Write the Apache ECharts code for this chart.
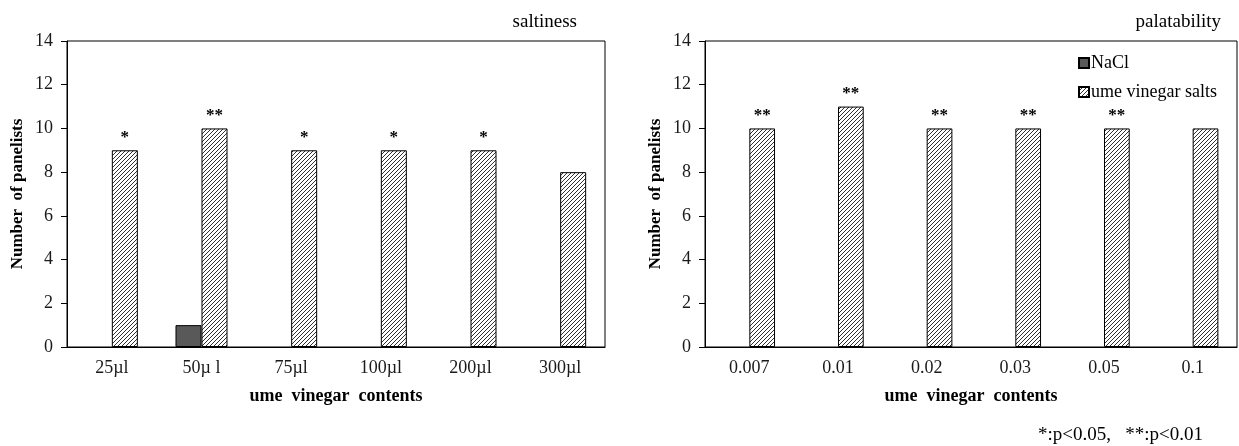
<!DOCTYPE html>
<html>
<head>
<meta charset="utf-8">
<script src="https://cdn.jsdelivr.net/npm/echarts@6/dist/echarts.min.js"></script>
<style>
    html,body{margin:0;padding:0;background:#fff;}
    #chart{width:1239px;height:446px;}
</style>
</head>
<body>
<div id="chart"></div>
<script>
    // data
    var saltCats = ['25µl', '50µ l', '75µl', '100µl', '200µl', '300µl'];
    var saltNaCl = [null, 1, null, null, null, null];
    var saltUme = [9, 10, 9, 9, 9, 8];
    var saltSig = ['*', '**', '*', '*', '*', ''];

    var palCats = ['0.007', '0.01', '0.02', '0.03', '0.05', '0.1'];
    var palNaCl = [null, null, null, null, null, null];
    var palUme = [10, 11, 10, 10, 10, 10];
    var palSig = ['**', '**', '**', '**', '**', ''];

    var yTicks = [0, 2, 4, 6, 8, 10, 12, 14];

    var font = '"Liberation Serif", "DejaVu Serif", serif';

    // hatch pattern ////
    function hatch() {
        var c = document.createElement('canvas');
        c.width = 4; c.height = 4;
        var ctx = c.getContext('2d');
        ctx.fillStyle = '#fff';
        ctx.fillRect(0, 0, 4, 4);
        ctx.strokeStyle = '#333';
        ctx.lineWidth = 1;
        ctx.beginPath();
        ctx.moveTo(0, 4); ctx.lineTo(4, 0);
        ctx.moveTo(-1, 1); ctx.lineTo(1, -1);
        ctx.moveTo(3, 5); ctx.lineTo(5, 3);
        ctx.stroke();
        return c;
    }
    var hatchFill = {image: hatch(), repeat: 'repeat'};

    var dom = document.getElementById('chart');
    var myChart = echarts.init(dom);

    function xAxisOf(idx, cats) {
        return {
            type: 'category',
            gridIndex: idx,
            data: cats,
            name: 'ume  vinegar  contents',
            nameLocation: 'middle',
            nameGap: 40,
            nameTextStyle: {fontFamily: font, fontWeight: 'bold', fontSize: 18, color: '#000'},
            axisLine: {lineStyle: {color: '#000', width: 1}},
            axisTick: {length: 6, lineStyle: {color: '#000'}},
            axisLabel: {fontFamily: font, fontSize: 18, color: '#1a1a1a', margin: 12}
        };
    }
    function yAxisOf(idx) {
        return {
            type: 'value',
            gridIndex: idx,
            min: 0,
            max: yTicks[yTicks.length - 1],
            interval: 2,
            name: 'Number  of panelists',
            nameLocation: 'middle',
            nameGap: 41,
            nameTextStyle: {fontFamily: font, fontWeight: 'bold', fontSize: 17, color: '#000'},
            axisLine: {show: true, lineStyle: {color: '#000', width: 1}},
            axisTick: {show: true, length: 6, lineStyle: {color: '#000'}},
            axisLabel: {fontFamily: font, fontSize: 18, color: '#1a1a1a', margin: 14},
            splitLine: {show: false}
        };
    }
    function sigLabel(sig) {
        return {
            show: true,
            position: 'top',
            distance: 4,
            fontFamily: font,
            fontWeight: 'bold',
            fontSize: 17,
            color: '#000',
            formatter: function (p) { return sig[p.dataIndex]; }
        };
    }

    var option = {
        animation: false,
        title: [
            {text: 'saltiness', right: 657, top: 8, textStyle: {fontFamily: font, fontWeight: 'normal', fontSize: 19, color: '#000'}},
            {text: 'palatability', right: 13, top: 8, textStyle: {fontFamily: font, fontWeight: 'normal', fontSize: 19, color: '#000'}},
            {text: '*:p<0.05,   **:p<0.01', right: 31, top: 421, textStyle: {fontFamily: font, fontWeight: 'normal', fontSize: 19, color: '#000'}}
        ],
        legend: {
            orient: 'vertical',
            left: 1073,
            top: 49,
            itemWidth: 10,
            itemHeight: 10,
            itemGap: 11,
            icon: 'rect',
            textStyle: {fontFamily: font, fontSize: 18, color: '#000', padding: [0, 0, 0, -3]},
            data: ['NaCl', 'ume vinegar salts']
        },
        grid: [
            {left: 67, top: 41, width: 538, height: 306, show: true, borderColor: '#000', borderWidth: 1, backgroundColor: 'transparent'},
            {left: 705, top: 41, width: 532, height: 306, show: true, borderColor: '#000', borderWidth: 1, backgroundColor: 'transparent'}
        ],
        xAxis: [xAxisOf(0, saltCats), xAxisOf(1, palCats)],
        yAxis: [yAxisOf(0), yAxisOf(1)],
        series: [
            {
                name: 'NaCl', type: 'bar', xAxisIndex: 0, yAxisIndex: 0,
                data: saltNaCl, barWidth: '29%', barGap: '0%',
                itemStyle: {color: '#595959', borderColor: '#000', borderWidth: 1}
            },
            {
                name: 'ume vinegar salts', type: 'bar', xAxisIndex: 0, yAxisIndex: 0,
                data: saltUme, barWidth: '29%', barGap: '0%',
                itemStyle: {color: hatchFill, borderColor: '#000', borderWidth: 1},
                label: sigLabel(saltSig)
            },
            {
                name: 'NaCl', type: 'bar', xAxisIndex: 1, yAxisIndex: 1,
                data: palNaCl, barWidth: '29%', barGap: '0%',
                itemStyle: {color: '#595959', borderColor: '#000', borderWidth: 1}
            },
            {
                name: 'ume vinegar salts', type: 'bar', xAxisIndex: 1, yAxisIndex: 1,
                data: palUme, barWidth: '29%', barGap: '0%',
                itemStyle: {color: hatchFill, borderColor: '#000', borderWidth: 1},
                label: sigLabel(palSig)
            }
        ]
    };

    if (option && typeof option === "object") {
        myChart.setOption(option, true);
    }
</script>
</body>
</html>
